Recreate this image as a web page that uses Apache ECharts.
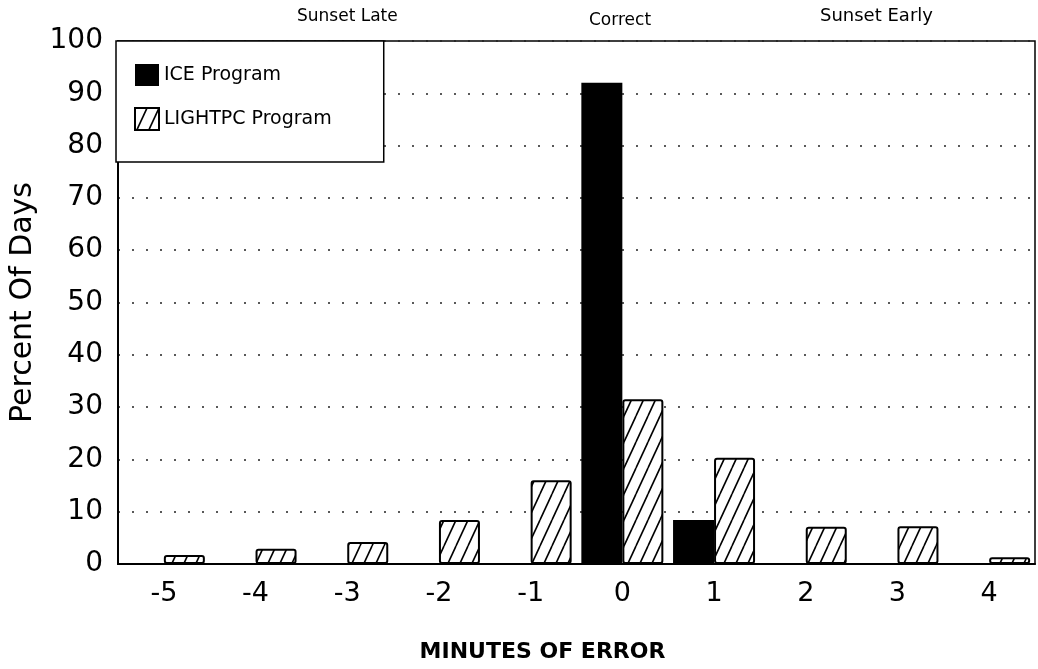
<!DOCTYPE html>
<html>
<head>
<meta charset="utf-8">
<script src="https://cdn.jsdelivr.net/npm/echarts@6/dist/echarts.min.js"></script>
<style>
  html, body { margin: 0; padding: 0; background: #fff; }
  #chart { width: 1038px; height: 669px; }
</style>
</head>
<body>
<div id="chart"></div>
<script>
// minutes of error, categories along x
const categories = ['-5', '-4', '-3', '-2', '-1', '0', '1', '2', '3', '4'];
// percent of days
const iceValues = [0, 0, 0, 0, 0, 92, 8.4, 0, 0, 0];
const lightpcValues = [1.7, 2.9, 4.2, 8.4, 16, 31.5, 20.3, 7.1, 7.2, 1.3];
const yTicks = [0, 10, 20, 30, 40, 50, 60, 70, 80, 90, 100];

const FONT = 'DejaVu Sans';

// diagonal hatch tile "/"
function makeHatch() {
  const w = 12, h = 26;
  const c = document.createElement('canvas');
  c.width = w; c.height = h;
  const ctx = c.getContext('2d');
  ctx.fillStyle = '#fff';
  ctx.fillRect(0, 0, w, h);
  ctx.strokeStyle = '#000';
  ctx.lineWidth = 1.6;
  for (let k = -1; k <= 1; k++) {
    ctx.beginPath();
    ctx.moveTo(k * w, h);
    ctx.lineTo(k * w + w, 0);
    ctx.stroke();
  }
  return c;
}
const hatch = { image: makeHatch(), repeat: 'repeat' };

const chart = echarts.init(document.getElementById('chart'));

chart.setOption({
  animation: false,
  backgroundColor: '#fff',
  textStyle: { fontFamily: FONT, color: '#000' },
  grid: {
    left: 118, right: 3, top: 41, bottom: 105,
    show: true, borderColor: '#000', borderWidth: 1.5,
    backgroundColor: 'transparent'
  },
  legend: {
    orient: 'vertical',
    left: 116, top: 41,
    padding: [23, 52, 31, 18],
    itemGap: 21,
    itemWidth: 24, itemHeight: 22,
    backgroundColor: '#fff',
    borderColor: '#000', borderWidth: 1.5, borderRadius: 0,
    textStyle: { fontFamily: FONT, fontSize: 19, color: '#000' },
    data: [
      { name: 'ICE Program', icon: 'rect' },
      { name: 'LIGHTPC Program', icon: 'rect' }
    ]
  },
  xAxis: {
    type: 'category',
    data: categories,
    name: 'MINUTES OF ERROR',
    nameLocation: 'middle',
    nameGap: 77,
    nameTextStyle: { fontFamily: FONT, fontSize: 22, fontWeight: 'bold', color: '#000', padding: [0, 68, 0, 0] },
    axisLine: { lineStyle: { color: '#000', width: 2 } },
    axisTick: { show: false },
    axisLabel: { fontFamily: FONT, fontSize: 27, color: '#000', margin: 16 }
  },
  yAxis: {
    type: 'value',
    min: yTicks[0], max: yTicks[yTicks.length - 1], interval: 10,
    name: 'Percent Of Days',
    nameLocation: 'middle',
    nameGap: 76,
    nameTextStyle: { fontFamily: FONT, fontSize: 30, color: '#000' },
    axisLine: { show: true, lineStyle: { color: '#000', width: 2 } },
    axisTick: { show: false },
    axisLabel: { fontFamily: FONT, fontSize: 28, color: '#000', margin: 15 },
    splitLine: { lineStyle: { color: '#222', width: 1.5, type: [2, 12] } }
  },
  graphic: [
    { type: 'text', left: 297, top: 8,
      style: { text: 'Sunset Late', fontFamily: FONT, fontSize: 17, fill: '#000' } },
    { type: 'text', left: 589, top: 12,
      style: { text: 'Correct', fontFamily: FONT, fontSize: 17, fill: '#000' } },
    { type: 'text', left: 820, top: 7,
      style: { text: 'Sunset Early', fontFamily: FONT, fontSize: 18, fill: '#000' } }
  ],
  series: [
    {
      name: 'ICE Program',
      type: 'bar',
      data: iceValues,
      barWidth: 41,
      barGap: '0%',
      itemStyle: { color: '#000' }
    },
    {
      name: 'LIGHTPC Program',
      type: 'bar',
      data: lightpcValues,
      barWidth: 41,
      itemStyle: { color: hatch, borderColor: '#000', borderWidth: 2, borderRadius: 2 }
    }
  ]
});
</script>
</body>
</html>
